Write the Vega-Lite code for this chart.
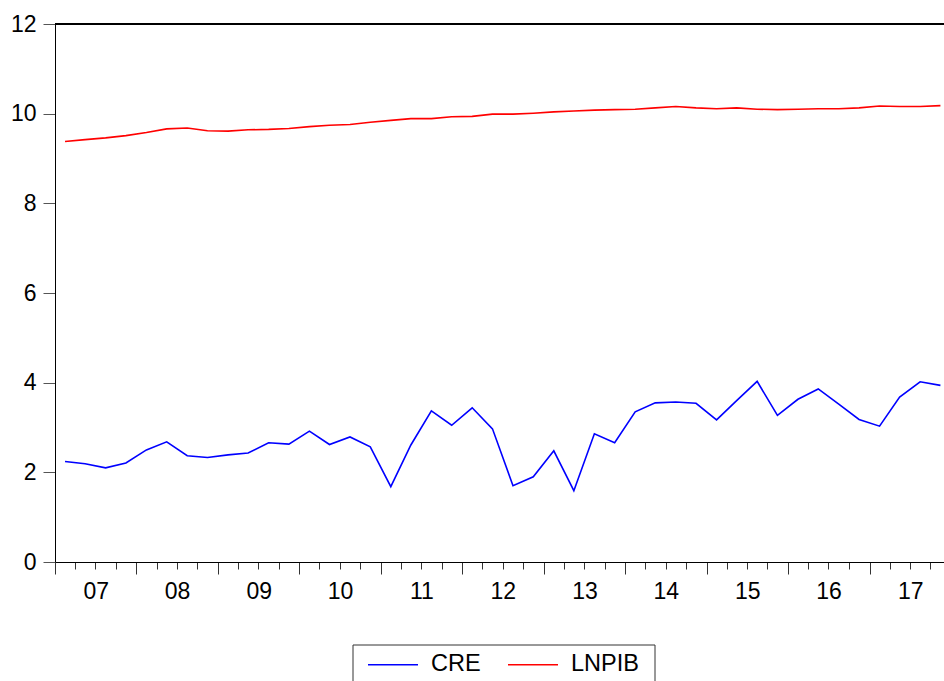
{
  "$schema": "https://vega.github.io/schema/vega-lite/v6.json",
  "width": 889,
  "height": 538,
  "autosize": {"type": "none"},
  "padding": {"left": 55, "top": 24, "right": 0, "bottom": 119},
  "background": "white",
  "config": {"view": {"stroke": null}, "font": "Liberation Sans"},
  "data": {
    "values": [
      {"date": "2007-02-15", "CRE": 2.24, "LNPIB": 9.38},
      {"date": "2007-05-16", "CRE": 2.19, "LNPIB": 9.42},
      {"date": "2007-08-16", "CRE": 2.10, "LNPIB": 9.46},
      {"date": "2007-11-15", "CRE": 2.21, "LNPIB": 9.51},
      {"date": "2008-02-15", "CRE": 2.50, "LNPIB": 9.58},
      {"date": "2008-05-16", "CRE": 2.68, "LNPIB": 9.66},
      {"date": "2008-08-16", "CRE": 2.37, "LNPIB": 9.68},
      {"date": "2008-11-15", "CRE": 2.33, "LNPIB": 9.62},
      {"date": "2009-02-15", "CRE": 2.39, "LNPIB": 9.61},
      {"date": "2009-05-16", "CRE": 2.43, "LNPIB": 9.64},
      {"date": "2009-08-16", "CRE": 2.66, "LNPIB": 9.65},
      {"date": "2009-11-15", "CRE": 2.63, "LNPIB": 9.67},
      {"date": "2010-02-15", "CRE": 2.92, "LNPIB": 9.71},
      {"date": "2010-05-16", "CRE": 2.62, "LNPIB": 9.74},
      {"date": "2010-08-16", "CRE": 2.79, "LNPIB": 9.76},
      {"date": "2010-11-15", "CRE": 2.57, "LNPIB": 9.81},
      {"date": "2011-02-15", "CRE": 1.68, "LNPIB": 9.85},
      {"date": "2011-05-16", "CRE": 2.61, "LNPIB": 9.89},
      {"date": "2011-08-16", "CRE": 3.37, "LNPIB": 9.89},
      {"date": "2011-11-15", "CRE": 3.05, "LNPIB": 9.93},
      {"date": "2012-02-15", "CRE": 3.44, "LNPIB": 9.94},
      {"date": "2012-05-16", "CRE": 2.97, "LNPIB": 9.99},
      {"date": "2012-08-16", "CRE": 1.70, "LNPIB": 9.99},
      {"date": "2012-11-15", "CRE": 1.90, "LNPIB": 10.01},
      {"date": "2013-02-15", "CRE": 2.48, "LNPIB": 10.04},
      {"date": "2013-05-16", "CRE": 1.59, "LNPIB": 10.06},
      {"date": "2013-08-16", "CRE": 2.86, "LNPIB": 10.08},
      {"date": "2013-11-15", "CRE": 2.66, "LNPIB": 10.09},
      {"date": "2014-02-15", "CRE": 3.35, "LNPIB": 10.10},
      {"date": "2014-05-16", "CRE": 3.55, "LNPIB": 10.13},
      {"date": "2014-08-16", "CRE": 3.57, "LNPIB": 10.16},
      {"date": "2014-11-15", "CRE": 3.54, "LNPIB": 10.13},
      {"date": "2015-02-15", "CRE": 3.17, "LNPIB": 10.11},
      {"date": "2015-05-16", "CRE": 3.60, "LNPIB": 10.13},
      {"date": "2015-08-16", "CRE": 4.03, "LNPIB": 10.10},
      {"date": "2015-11-15", "CRE": 3.27, "LNPIB": 10.09},
      {"date": "2016-02-15", "CRE": 3.63, "LNPIB": 10.10},
      {"date": "2016-05-16", "CRE": 3.86, "LNPIB": 10.11},
      {"date": "2016-08-16", "CRE": 3.52, "LNPIB": 10.11},
      {"date": "2016-11-15", "CRE": 3.18, "LNPIB": 10.13},
      {"date": "2017-02-15", "CRE": 3.03, "LNPIB": 10.17},
      {"date": "2017-05-16", "CRE": 3.68, "LNPIB": 10.16},
      {"date": "2017-08-16", "CRE": 4.02, "LNPIB": 10.16},
      {"date": "2017-11-15", "CRE": 3.94, "LNPIB": 10.18}
    ]
  },
  "layer": [
    {
      "mark": {"type": "rule", "color": "black", "strokeWidth": 1},
      "encoding": {"y": {"datum": 12, "type": "quantitative"}}
    },
    {
      "transform": [{"fold": ["CRE", "LNPIB"], "as": ["series", "value"]}],
      "mark": {"type": "line", "strokeWidth": 1.6},
      "encoding": {
        "x": {
          "field": "date",
          "type": "temporal",
          "scale": {
            "type": "utc",
            "domain": [
              {"year": 2007, "month": 1, "date": 1, "utc": true},
              {"year": 2017, "month": 12, "date": 1, "utc": true}
            ]
          },
          "axis": {
            "title": null,
            "grid": false,
            "tickCount": {"interval": "month", "step": 3},
            "tickSize": {"condition": {"test": "utcmonth(datum.value) === 0", "value": 12}, "value": 7},
            "tickColor": "#333",
            "domainColor": "black",
            "labelExpr": "utcmonth(datum.value) === 0 ? utcFormat(datum.value, '%y') : ''",
            "labelOffset": 40.7,
            "labelPadding": 6,
            "labelFontSize": 23,
            "labelColor": "black",
            "labelOverlap": false,
            "labelFlush": false,
            "labelBound": false
          }
        },
        "y": {
          "field": "value",
          "type": "quantitative",
          "scale": {"domain": [0, 12], "nice": false, "zero": false},
          "axis": {
            "title": null,
            "grid": false,
            "values": [0, 2, 4, 6, 8, 10, 12],
            "tickSize": 12,
            "tickColor": "#555",
            "domainColor": "black",
            "labelPadding": 7,
            "labelFontSize": 23,
            "labelColor": "black"
          }
        },
        "color": {
          "field": "series",
          "type": "nominal",
          "scale": {"domain": ["CRE", "LNPIB"], "range": ["#0000FF", "#FF0000"]},
          "legend": {
            "orient": "none",
            "legendX": 297.5,
            "legendY": 620.5,
            "direction": "horizontal",
            "title": null,
            "symbolType": "M-1.8,-1.04H6.2",
            "symbolSize": 156.25,
            "symbolStrokeWidth": 1.6,
            "labelFontSize": 23.5,
            "labelColor": "black",
            "labelBaseline": "alphabetic",
            "labelOffset": 40,
            "gridAlign": "none",
            "columnPadding": 23,
            "padding": 15,
            "strokeColor": "#333"
          }
        }
      }
    }
  ]
}
